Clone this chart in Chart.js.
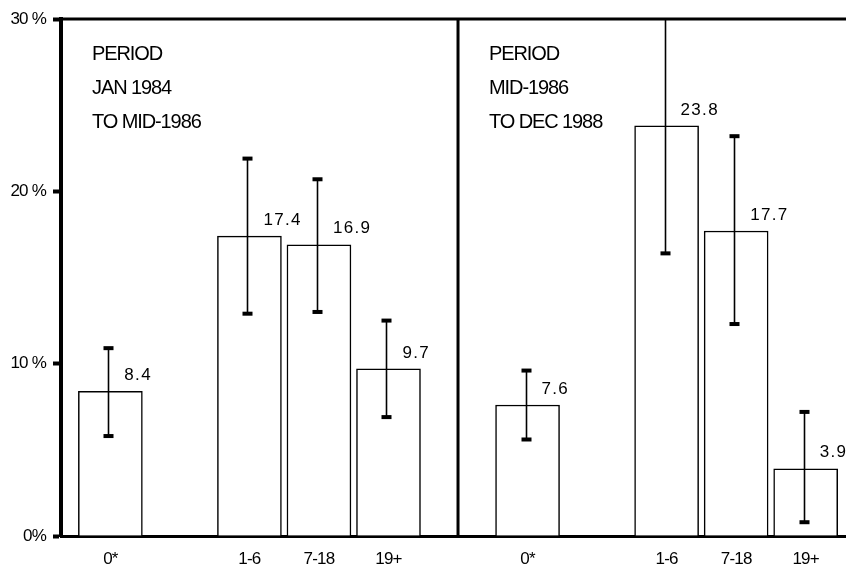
<!DOCTYPE html>
<html>
<head>
<meta charset="utf-8">
<script src="https://cdn.jsdelivr.net/npm/chart.js@4"></script>
<style>
  html, body { margin: 0; padding: 0; background: #fff; }
  #wrap { width: 846px; height: 566px; }
</style>
</head>
<body>
<div id="wrap"><canvas id="chart" width="846" height="566"></canvas></div>
<script>
// age groups shown in each period panel
const categories = ['0*', '1-6', '7-18', '19+'];
const period1Lines = ['PERIOD', 'JAN 1984', 'TO MID-1986'];
const period2Lines = ['PERIOD', 'MID-1986', 'TO DEC 1988'];

// percentages
const period1Values = [8.4, 17.4, 16.9, 9.7];
const period1Low = [5.8, 12.9, 13.0, 6.9];
const period1High = [10.9, 21.9, 20.7, 12.5];

const period2Values = [7.6, 23.8, 17.7, 3.9];
const period2Low = [5.6, 16.4, 12.3, 0.8];
const period2High = [9.6, 31.0, 23.2, 7.2];

const yTicks = [0, 10, 20, 30];
const yTickLabels = ['0%', '10 %', '20 %', '30 %'];

// slot positions on the x axis (gap after the first group, panels 6 slots apart)
const slots = [0, 2, 3, 4];
const panelOffset = 6;
const divider = 5;

const points = [];
const lows = [];
const highs = [];
const labels = [];
[[period1Values, period1Low, period1High], [period2Values, period2Low, period2High]].forEach(([vals, lo, hi], p) => {
  vals.forEach((v, i) => {
    points.push({ x: slots[i] + p * panelOffset, y: v });
    lows.push(lo[i]);
    highs.push(hi[i]);
    labels.push(v.toFixed(1));
  });
});
const tickPositions = points.map(pt => pt.x);
const FONT = '"Liberation Sans", Arial, sans-serif';

const extras = {
  id: 'extras',
  beforeDraw(chart) {
    // tighter tracking for the axis tick text
    chart.ctx.letterSpacing = '-0.8px';
  },
  afterDatasetsDraw(chart) {
    const { ctx, chartArea: area, scales: { x, y } } = chart;
    ctx.save();
    ctx.beginPath();
    ctx.rect(area.left, area.top, area.right - area.left, area.bottom - area.top);
    ctx.clip();
    ctx.strokeStyle = '#000';
    ctx.fillStyle = '#000';
    points.forEach((pt, i) => {
      const px = Math.round(x.getPixelForValue(pt.x)) - 1.5;
      const top = y.getPixelForValue(highs[i]);
      const bot = y.getPixelForValue(lows[i]);
      ctx.lineWidth = 1.6;
      ctx.beginPath();
      ctx.moveTo(px, top);
      ctx.lineTo(px, bot);
      ctx.stroke();
      ctx.fillRect(px - 5, top - 2, 10, 4);
      ctx.fillRect(px - 5, bot - 2, 10, 4);
    });
    ctx.restore();

    ctx.save();
    ctx.fillStyle = '#000';
    ctx.font = '17px ' + FONT;
    ctx.letterSpacing = '1.3px';
    ctx.textBaseline = 'middle';
    ctx.textAlign = 'left';
    points.forEach((pt, i) => {
      const px = x.getPixelForValue(pt.x);
      const py = y.getPixelForValue(pt.y);
      ctx.fillText(labels[i], px + 14, py - 16);
    });

    ctx.font = '20px ' + FONT;
    ctx.letterSpacing = '-1.1px';
    const lineGap = 34;
    [[period1Lines, area.left], [period2Lines, x.getPixelForValue(divider)]].forEach(([lines, from]) => {
      lines.forEach((t, k) => ctx.fillText(t, from + 31, 54 + k * lineGap));
    });

    // frame: top rule and the panel divider
    ctx.lineWidth = 3;
    ctx.beginPath();
    ctx.moveTo(area.left, area.top);
    ctx.lineTo(area.right, area.top);
    const dx = x.getPixelForValue(divider);
    ctx.moveTo(dx, area.top);
    ctx.lineTo(dx, area.bottom);
    ctx.stroke();
    ctx.restore();
  }
};

new Chart(document.getElementById('chart'), {
  type: 'bar',
  data: {
    datasets: [{
      data: points,
      backgroundColor: '#fff',
      borderColor: '#000',
      borderWidth: 1.5,
      borderSkipped: 'bottom',
      barThickness: 64
    }]
  },
  options: {
    responsive: false,
    animation: false,
    events: [],
    layout: { padding: { top: 19, right: 0, left: 0, bottom: 0 } },
    plugins: { legend: { display: false }, tooltip: { enabled: false } },
    scales: {
      x: {
        type: 'linear',
        offset: false,
        min: -0.71,
        max: 10.58,
        afterBuildTicks: axis => { axis.ticks = tickPositions.map(v => ({ value: v })); },
        afterFit: axis => { axis.height = 30; },
        grid: { drawOnChartArea: false, drawTicks: false, color: '#000' },
        border: { display: true, color: '#000', width: 3 },
        ticks: {
          color: '#000',
          padding: 13,
          maxRotation: 0,
          autoSkip: false,
          font: { family: FONT, size: 17 },
          callback: v => categories[slots.indexOf(v >= panelOffset ? v - panelOffset : v)]
        }
      },
      y: {
        min: 0,
        max: 30,
        afterBuildTicks: axis => { axis.ticks = yTicks.map(v => ({ value: v })); },
        afterFit: axis => { axis.width = 61; },
        grid: { drawOnChartArea: false, drawTicks: true, tickLength: 8, tickWidth: 4, color: '#000' },
        border: { display: true, color: '#000', width: 4 },
        ticks: {
          color: '#000',
          padding: 7,
          font: { family: FONT, size: 17 },
          callback: v => yTickLabels[yTicks.indexOf(v)]
        }
      }
    }
  },
  plugins: [extras]
});
</script>
</body>
</html>
